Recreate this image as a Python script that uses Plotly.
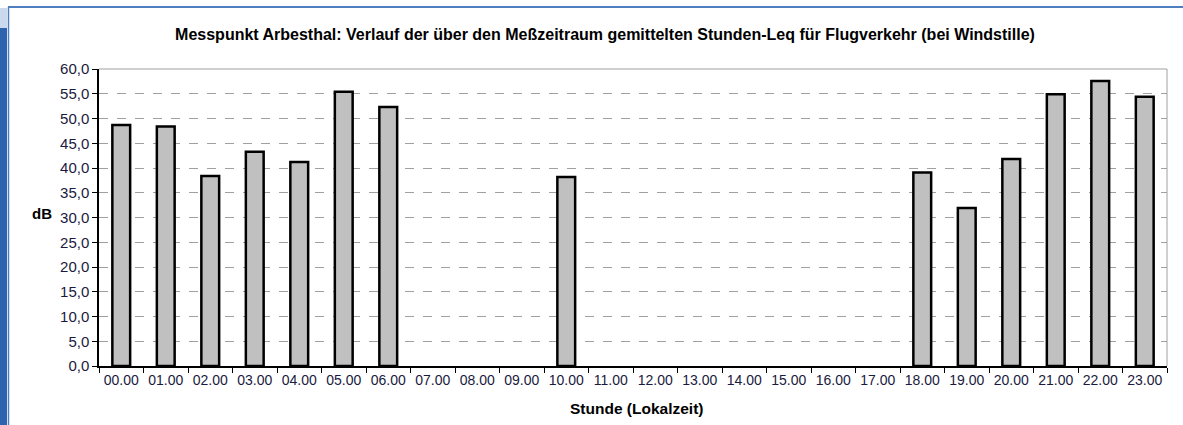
import plotly.graph_objects as go

hours = ["00.00","01.00","02.00","03.00","04.00","05.00","06.00","07.00","08.00","09.00",
         "10.00","11.00","12.00","13.00","14.00","15.00","16.00","17.00","18.00","19.00",
         "20.00","21.00","22.00","23.00"]
leq = [48.7, 48.4, 38.4, 43.3, 41.2, 55.4, 52.3, None, None, None,
       38.2, None, None, None, None, None, None, None, 39.1, 31.9,
       41.8, 54.9, 57.6, 54.4]
y_ticks = [0, 5, 10, 15, 20, 25, 30, 35, 40, 45, 50, 55, 60]

W, H = 1183, 425
L, R, T, B = 99, 16, 69, 59
pw, ph = W - L - R, H - T - B

def px(x):
    return (x - L) / pw

def py(y):
    return (H - B - y) / ph

fig = go.Figure(go.Bar(
    x=hours, y=leq,
    marker=dict(color="#c0c0c0", line=dict(color="black", width=2.5)),
    width=0.4,
))

font = "Liberation Sans, Arial, sans-serif"
fig.update_layout(
    width=W, height=H,
    margin=dict(l=L, r=R, t=T, b=B),
    paper_bgcolor="white", plot_bgcolor="white",
    separators=",.",
    showlegend=False,
    font=dict(family=font, size=12, color="#1a1a40"),
    title=dict(text="<b>Messpunkt Arbesthal: Verlauf der über den Meßzeitraum gemittelten Stunden-Leq für Flugverkehr (bei Windstille)</b>",
               xref="container", x=605 / W, xanchor="center", y=1 - 34 / H, yanchor="middle",
               font=dict(size=16, color="black", family=font)),
    xaxis=dict(type="category", categoryorder="array", categoryarray=hours,
               showline=True, linecolor="black", linewidth=1.5,
               ticks="outside", tickson="boundaries", ticklen=5, tickcolor="black",
               showgrid=False, tickangle=0, tickfont=dict(size=14, color="#1a1a40"),
               range=[-0.5, 23.5]),
    yaxis=dict(range=[0, 60], tickvals=y_ticks, tickformat=".1f",
               showline=True, linecolor="black", linewidth=1.5,
               ticks="outside", ticklen=5, tickcolor="black",
               showgrid=True, gridcolor="#a0a0a0", griddash="dash", gridwidth=1,
               zeroline=False, tickfont=dict(size=15, color="#1a1a40")),
    annotations=[
        dict(text="<b>dB</b>", x=px(42), y=py(213), xref="paper", yref="paper",
             xanchor="center", yanchor="middle",
             showarrow=False, font=dict(size=15, color="black")),
        dict(text="<b>Stunde (Lokalzeit)</b>", x=px(636), y=py(408), xref="paper", yref="paper",
             xanchor="center", yanchor="middle",
             showarrow=False, font=dict(size=15.5, color="black")),
    ],
    shapes=[
        dict(type="line", xref="paper", yref="paper", x0=0, x1=1, y0=1, y1=1,
             line=dict(color="#a0a0a0", width=1)),
        dict(type="line", xref="paper", yref="paper", x0=1, x1=1, y0=0, y1=1,
             line=dict(color="#a0a0a0", width=1)),
        dict(type="rect", xref="paper", yref="paper", x0=px(0), x1=px(7), y0=py(425), y1=py(28),
             fillcolor="#2e64ae", line=dict(width=0), layer="above"),
        dict(type="rect", xref="paper", yref="paper", x0=px(0), x1=px(7), y0=py(28), y1=py(8),
             fillcolor="#c9d9ee", line=dict(width=0), layer="above"),
        dict(type="line", xref="paper", yref="paper", x0=px(8), x1=px(1183), y0=py(7), y1=py(7),
             line=dict(color="#4f7fc0", width=2), layer="above"),
        dict(type="line", xref="paper", yref="paper", x0=px(8.5), x1=px(8.5), y0=py(425), y1=py(7),
             line=dict(color="#4f7fc0", width=1.5), layer="above"),
    ],
)

fig.write_html("out.html", config={"displayModeBar": False},
               post_script="document.body.style.margin='0';")
